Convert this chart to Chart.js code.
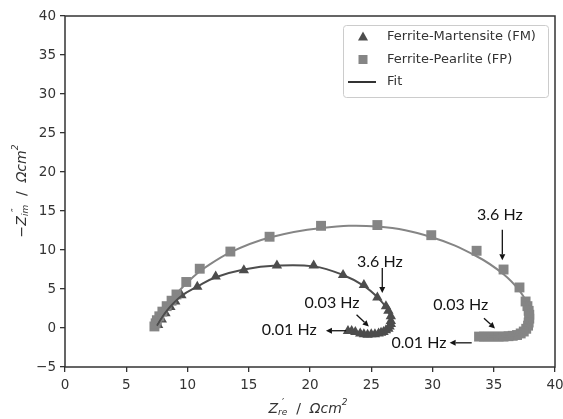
<!DOCTYPE html>
<html>
<head>
<meta charset="utf-8">
<script src="https://cdn.jsdelivr.net/npm/chart.js@4"></script>
<style>
  html, body { margin: 0; padding: 0; background: #fff; }
  #wrap { width: 563px; height: 419px; }
</style>
</head>
<body>
<div id="wrap"><canvas id="chart" width="563" height="419"></canvas></div>
<script>
// Ferrite-Martensite (FM) measured points
const fmRe = [7.6, 7.9, 8.2, 8.6, 9.0, 9.5, 10.8, 12.3, 14.6, 17.3, 20.3, 22.7, 24.4, 25.5, 26.2, 26.4, 26.6, 26.6, 26.6, 26.5, 26.4, 26.2, 26.0, 25.8, 25.6, 25.3, 25.0, 24.7, 24.4, 24.1, 23.7, 23.4, 23.1];
const fmIm = [0.4, 1.1, 1.9, 2.7, 3.4, 4.2, 5.3, 6.6, 7.4, 8.0, 8.0, 6.8, 5.5, 3.9, 2.8, 2.2, 1.5, 0.9, 0.5, 0.2, -0.1, -0.3, -0.5, -0.6, -0.7, -0.8, -0.8, -0.85, -0.8, -0.7, -0.5, -0.4, -0.4];

// Ferrite-Pearlite (FP) measured points
const fpRe = [7.3, 7.4, 7.5, 7.7, 7.95, 8.3, 8.7, 9.1, 9.9, 11.0, 13.5, 16.7, 20.9, 25.5, 29.9, 33.6, 35.8, 37.1, 37.6, 37.75, 37.85, 37.9, 37.9, 37.85, 37.8, 37.65, 37.45, 37.2, 36.9, 36.55, 36.2, 35.8, 35.4, 35.0, 34.6, 34.2, 33.8];
const fpIm = [0.2, 0.6, 1.0, 1.5, 2.1, 2.8, 3.5, 4.3, 5.9, 7.6, 9.8, 11.7, 13.1, 13.2, 11.9, 9.9, 7.5, 5.2, 3.4, 2.8, 2.2, 1.7, 1.2, 0.7, 0.3, -0.1, -0.45, -0.7, -0.9, -1.0, -1.05, -1.1, -1.1, -1.1, -1.1, -1.1, -1.1];

// fitted curves
const fmFitRe = [7.5, 8.3, 9.5, 10.8, 12.3, 14.6, 17.3, 20.3, 22.7, 24.4, 25.6, 26.3, 26.6, 26.5, 26.0, 25.2, 24.3, 23.3];
const fmFitIm = [0.3, 2.2, 4.1, 5.3, 6.5, 7.5, 8.0, 7.9, 6.8, 5.4, 3.8, 2.4, 1.0, 0.0, -0.5, -0.8, -0.8, -0.4];
const fpFitRe = [7.3, 7.8, 8.5, 9.4, 10.5, 11.3, 13.5, 16.7, 20.8, 25.5, 30.0, 33.6, 35.8, 37.1, 37.7, 37.9, 37.8, 37.3, 36.5, 35.3, 33.8];
const fpFitIm = [0.3, 1.6, 3.2, 4.9, 6.6, 7.6, 9.7, 11.6, 12.8, 13.0, 11.6, 9.2, 6.9, 4.8, 3.2, 1.6, 0.2, -0.6, -1.0, -1.1, -1.1];

// frequency annotations (data coordinates)
const noteText = ['3.6 Hz', '3.6 Hz', '0.03 Hz', '0.01 Hz', '0.03 Hz', '0.01 Hz'];
const noteX = [35.5, 25.7, 21.8, 18.3, 32.3, 28.9];
const noteY = [14.5, 8.5, 3.2, -0.3, 2.95, -1.9];
const arrowFromX = [35.7, 25.9, 23.8, 22.95, 34.2, 33.2];
const arrowFromY = [12.6, 7.7, 1.7, -0.35, 1.25, -1.9];
const arrowToX = [35.7, 25.9, 24.8, 21.3, 35.1, 31.4];
const arrowToY = [8.7, 4.5, 0.2, -0.35, -0.05, -1.9];

const legendLabels = ['Ferrite-Martensite (FM)', 'Ferrite-Pearlite (FP)', 'Fit'];

const DARK = '#4d4d4d';
const LIGHT = '#858585';
const AXIS = '#333333';

const pts = (xs, ys) => xs.map((x, i) => ({ x, y: ys[i] }));

const frame = {
  id: 'frame',
  afterDraw(chart) {
    const { ctx, chartArea: a } = chart;
    ctx.save();
    ctx.strokeStyle = AXIS;
    ctx.lineWidth = 1.5;
    ctx.strokeRect(a.left, a.top, a.right - a.left, a.bottom - a.top);
    ctx.restore();
  }
};

function drawRich(ctx, segs, cx, cy, rot) {
  let w = 0;
  segs.forEach(s => { ctx.font = s.f; if (!s.noAdv) w += ctx.measureText(s.t).width; });
  ctx.save();
  ctx.translate(cx, cy);
  if (rot) ctx.rotate(-Math.PI / 2);
  ctx.fillStyle = AXIS;
  ctx.textBaseline = 'middle';
  ctx.textAlign = 'left';
  let x = -w / 2;
  segs.forEach(s => {
    ctx.font = s.f;
    ctx.fillText(s.t, x + (s.dx || 0), s.dy || 0);
    if (!s.noAdv) x += ctx.measureText(s.t).width;
  });
  ctx.restore();
}

const titles = {
  id: 'titles',
  afterDraw(chart) {
    const ctx = chart.ctx;
    const F = 'DejaVu Sans';
    drawRich(ctx, [
      { t: '\u2212', f: `14px ${F}` },
      { t: 'Z', f: `italic 14px ${F}` },
      { t: '\u2033', f: `10px ${F}`, dy: -6, dx: 4, noAdv: true },
      { t: 'im', f: `italic 9px ${F}`, dy: 4 },
      { t: '  /  ', f: `14px ${F}` },
      { t: '\u03A9cm', f: `italic 14px ${F}` },
      { t: '2', f: `italic 9px ${F}`, dy: -6 }
    ], 22, 191, true);
    drawRich(ctx, [
      { t: 'Z', f: `italic 14px ${F}` },
      { t: '\u2032', f: `10px ${F}`, dy: -6, dx: 4, noAdv: true },
      { t: 're', f: `italic 9px ${F}`, dy: 4 },
      { t: '  /  ', f: `14px ${F}` },
      { t: '\u03A9cm', f: `italic 14px ${F}` },
      { t: '2', f: `italic 9px ${F}`, dy: -6 }
    ], 308, 409, false);
  }
};

const notes = {
  id: 'notes',
  afterDatasetsDraw(chart) {
    const { ctx, scales: { x, y } } = chart;
    ctx.save();
    ctx.fillStyle = '#141414';
    ctx.strokeStyle = '#141414';
    ctx.font = '16px Lato';
    ctx.textAlign = 'center';
    ctx.textBaseline = 'middle';
    noteText.forEach((t, i) => ctx.fillText(t, x.getPixelForValue(noteX[i]), y.getPixelForValue(noteY[i])));
    ctx.lineWidth = 1.3;
    arrowFromX.forEach((fx, i) => {
      const x0 = x.getPixelForValue(fx), y0 = y.getPixelForValue(arrowFromY[i]);
      const x1 = x.getPixelForValue(arrowToX[i]), y1 = y.getPixelForValue(arrowToY[i]);
      const ang = Math.atan2(y1 - y0, x1 - x0);
      const hl = 6, hw = 3;
      ctx.beginPath();
      ctx.moveTo(x0, y0);
      ctx.lineTo(x1 - Math.cos(ang) * hl, y1 - Math.sin(ang) * hl);
      ctx.stroke();
      ctx.beginPath();
      ctx.moveTo(x1, y1);
      ctx.lineTo(x1 - Math.cos(ang) * hl - Math.sin(ang) * hw, y1 - Math.sin(ang) * hl + Math.cos(ang) * hw);
      ctx.lineTo(x1 - Math.cos(ang) * hl + Math.sin(ang) * hw, y1 - Math.sin(ang) * hl - Math.cos(ang) * hw);
      ctx.closePath();
      ctx.fill();
    });
    ctx.restore();
  }
};

const legendBox = {
  id: 'legendBox',
  afterDraw(chart) {
    const ctx = chart.ctx;
    const bx = 343, by = 25, bw = 205, bh = 72;
    ctx.save();
    ctx.fillStyle = 'rgba(255,255,255,0.9)';
    ctx.strokeStyle = '#cccccc';
    ctx.lineWidth = 1;
    ctx.beginPath();
    ctx.roundRect(bx + 0.5, by + 0.5, bw, bh, 3);
    ctx.fill();
    ctx.stroke();
    const rows = [37, 59.5, 82];
    // triangle
    ctx.fillStyle = DARK;
    ctx.beginPath();
    ctx.moveTo(363, rows[0] - 5.5);
    ctx.lineTo(368, rows[0] + 3.5);
    ctx.lineTo(358, rows[0] + 3.5);
    ctx.closePath();
    ctx.fill();
    // square
    ctx.fillStyle = LIGHT;
    ctx.fillRect(358.5, rows[1] - 4.5, 9, 9);
    // line
    ctx.strokeStyle = '#333';
    ctx.lineWidth = 2;
    ctx.beginPath();
    ctx.moveTo(348, rows[2]);
    ctx.lineTo(376, rows[2]);
    ctx.stroke();
    ctx.fillStyle = AXIS;
    ctx.font = '13px DejaVu Sans';
    ctx.textAlign = 'left';
    ctx.textBaseline = 'middle';
    legendLabels.forEach((t, i) => ctx.fillText(t, 387, rows[i]));
    ctx.restore();
  }
};

new Chart(document.getElementById('chart'), {
  type: 'scatter',
  data: {
    datasets: [
      { label: 'FP fit', data: pts(fpFitRe, fpFitIm), showLine: true, borderColor: LIGHT, borderWidth: 2, pointRadius: 0, tension: 0.4 },
      { label: 'FM fit', data: pts(fmFitRe, fmFitIm), showLine: true, borderColor: DARK, borderWidth: 2, pointRadius: 0, tension: 0.4 },
      { label: 'Ferrite-Pearlite (FP)', data: pts(fpRe, fpIm), pointStyle: 'rect', pointRadius: 7, backgroundColor: LIGHT, borderColor: LIGHT, borderWidth: 0 },
      { label: 'Ferrite-Martensite (FM)', data: pts(fmRe, fmIm), pointStyle: 'triangle', pointRadius: 6, backgroundColor: DARK, borderColor: DARK, borderWidth: 0 }
    ]
  },
  options: {
    responsive: false,
    animation: false,
    layout: { padding: { top: 16, right: 8, left: 0, bottom: 0 } },
    plugins: { legend: { display: false }, tooltip: { enabled: false } },
    scales: {
      x: {
        type: 'linear', min: 0, max: 40,
        afterFit: s => { s.height = 52; s.paddingRight = 0; s.paddingLeft = 0; },
        border: { display: false },
        grid: { drawOnChartArea: false, drawTicks: true, tickLength: 5, color: AXIS, lineWidth: 1.3 },
        ticks: { stepSize: 5, color: AXIS, font: { family: 'DejaVu Sans', size: 13.5 }, padding: 5, maxRotation: 0 }
      },
      y: {
        type: 'linear', min: -5, max: 40,
        afterFit: s => { s.width = 65; s.paddingTop = 0; s.paddingBottom = 0; },
        border: { display: false },
        grid: { drawOnChartArea: false, drawTicks: true, tickLength: 5, color: AXIS, lineWidth: 1.3 },
        ticks: { stepSize: 5, color: AXIS, font: { family: 'DejaVu Sans', size: 13.5 }, padding: 4,
          callback: v => String(v).replace('-', '\u2212') }
      }
    }
  },
  plugins: [frame, titles, notes, legendBox]
});
</script>
</body>
</html>
